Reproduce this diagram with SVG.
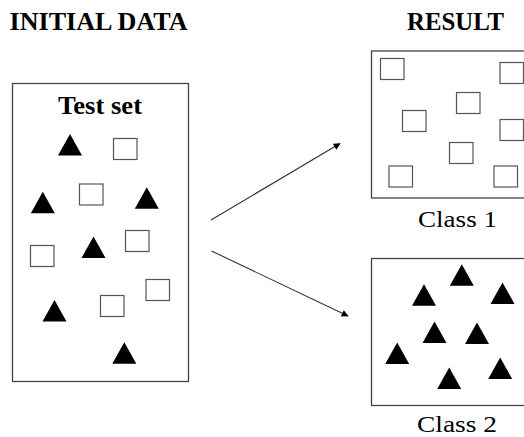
<svg xmlns="http://www.w3.org/2000/svg" width="524" height="437" viewBox="0 0 524 437">
<style>
.t{font-family:"Liberation Serif","Times New Roman",serif;fill:#000}
.h{font-weight:bold;font-size:26px}
.c{font-size:23.5px}
.box{fill:#fff;stroke:#444;stroke-width:1.3}
.sq{fill:#fff;stroke:#555;stroke-width:1.2}
.tri{fill:#000}
.ln{stroke:#333;stroke-width:1.1;fill:none}
</style>
<defs>
<marker id="ah" viewBox="0 0 10 10" refX="9" refY="5" markerWidth="8" markerHeight="7" markerUnits="userSpaceOnUse" orient="auto">
<path d="M0,0 L10,5 L0,10 Z" fill="#000"/>
</marker>
<rect id="s" width="23.5" height="21" class="sq"/>
<path id="tr" d="M0,-21.5 L12,0 L-12,0 Z" class="tri"/>
</defs>
<rect width="524" height="437" fill="#fff"/>
<text class="t h" x="9.5" y="29.5" textLength="178" lengthAdjust="spacingAndGlyphs">INITIAL DATA</text>
<text class="t h" x="407" y="29.5" textLength="97" lengthAdjust="spacingAndGlyphs">RESULT</text>

<g id="testset">
<rect x="12.5" y="83.5" width="176" height="298" class="box"/>
<text class="t h" x="58" y="113.5" textLength="84" lengthAdjust="spacingAndGlyphs" style="font-size:25px">Test set</text>
<use href="#s" x="113.5" y="138.5"/>
<use href="#s" x="79.5" y="184"/>
<use href="#s" x="125.5" y="230.5"/>
<use href="#s" x="30.5" y="245.5"/>
<use href="#s" x="146" y="279.5"/>
<use href="#s" x="100.5" y="295.5"/>
<use href="#tr" x="70" y="155.5"/>
<use href="#tr" x="42.8" y="213.3"/>
<use href="#tr" x="146.8" y="208.8"/>
<use href="#tr" x="93.5" y="258"/>
<use href="#tr" x="54.5" y="321.5"/>
<use href="#tr" x="124.3" y="363.7"/>
</g>

<g id="class1">
<rect x="371.5" y="51" width="160" height="147" class="box"/>
<use href="#s" x="380.5" y="58.5"/>
<use href="#s" x="500" y="62.5"/>
<use href="#s" x="456.5" y="92.5"/>
<use href="#s" x="402.5" y="110.5"/>
<use href="#s" x="500" y="119.5"/>
<use href="#s" x="449.5" y="142.5"/>
<use href="#s" x="389" y="166"/>
<use href="#s" x="494" y="166"/>
<text class="t c" x="418" y="226.5" textLength="79" lengthAdjust="spacingAndGlyphs">Class 1</text>
</g>

<g id="class2">
<rect x="371.5" y="258.5" width="160" height="147" class="box"/>
<use href="#tr" x="461.8" y="285.8"/>
<use href="#tr" x="424" y="305.7"/>
<use href="#tr" x="502.5" y="304"/>
<use href="#tr" x="434.5" y="343"/>
<use href="#tr" x="477" y="344"/>
<use href="#tr" x="397.2" y="364"/>
<use href="#tr" x="500.2" y="379"/>
<use href="#tr" x="449.2" y="389"/>
<text class="t c" x="417" y="431.5" textLength="80" lengthAdjust="spacingAndGlyphs">Class 2</text>
</g>

<g id="connectors">
<line x1="211" y1="220" x2="340" y2="143.5" class="ln" marker-end="url(#ah)"/>
<line x1="211.5" y1="251" x2="348" y2="316" class="ln" marker-end="url(#ah)"/>
</g>
</svg>
